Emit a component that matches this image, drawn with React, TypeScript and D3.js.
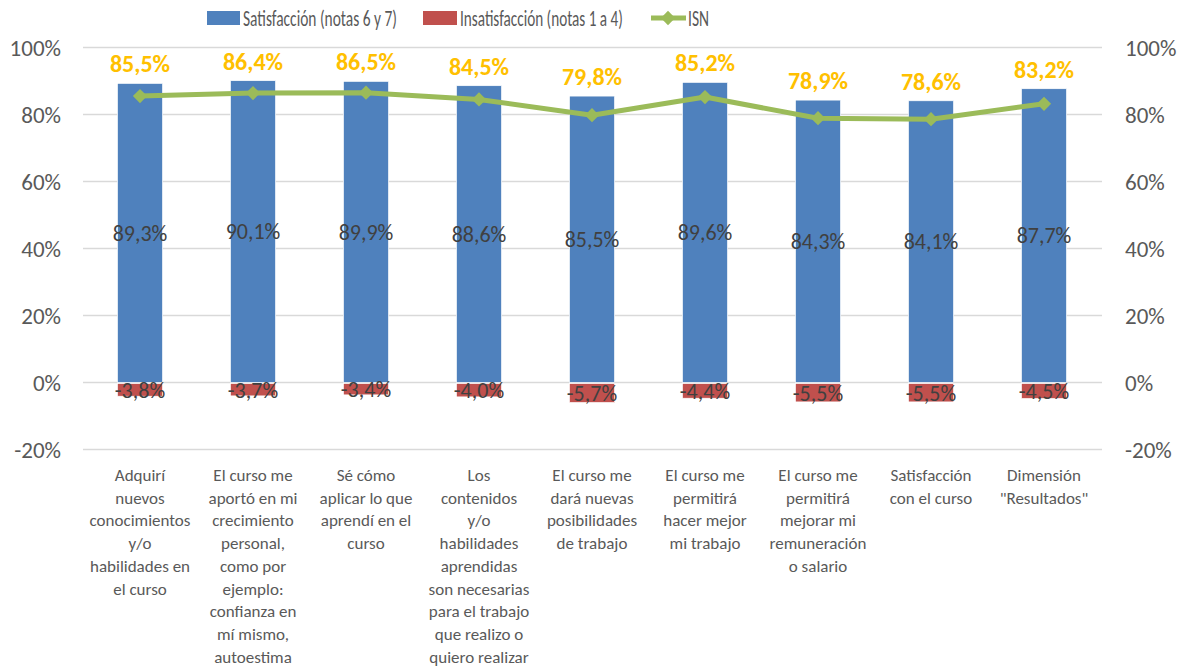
import React, { useLayoutEffect, useRef, useState } from "react";
import * as d3 from "d3";

const categories: string[][] = [
  ["Adquirí", "nuevos", "conocimientos", "y/o", "habilidades en", "el curso"],
  ["El curso me", "aportó en mi", "crecimiento", "personal,", "como por", "ejemplo:", "confianza en", "mí mismo,", "autoestima"],
  ["Sé cómo", "aplicar lo que", "aprendí en el", "curso"],
  ["Los", "contenidos", "y/o", "habilidades", "aprendidas", "son necesarias", "para el trabajo", "que realizo o", "quiero realizar"],
  ["El curso me", "dará nuevas", "posibilidades", "de trabajo"],
  ["El curso me", "permitirá", "hacer mejor", "mi trabajo"],
  ["El curso me", "permitirá", "mejorar mi", "remuneración", "o salario"],
  ["Satisfacción", "con el curso"],
  ["Dimensión", "\"Resultados\""],
];
const satisfaccion = [89.3, 90.1, 89.9, 88.6, 85.5, 89.6, 84.3, 84.1, 87.7];
const insatisfaccion = [-3.8, -3.7, -3.4, -4.0, -5.7, -4.4, -5.5, -5.5, -4.5];
const isn = [85.5, 86.4, 86.5, 84.5, 79.8, 85.2, 78.9, 78.6, 83.2];
const yTicks = [-20, 0, 20, 40, 60, 80, 100];
const legendNames = ["Satisfacción (notas 6 y 7)", "Insatisfacción (notas 1 a 4)", "ISN"];

const W = 1185;
const H = 669;
const FONT = "Carlito, Calibri, Lato, 'Open Sans', sans-serif";
const BLUE = "#4F81BD";
const RED = "#C0504D";
const GREEN = "#9BBB59";
const ORANGE = "#FFC000";
const AXIS = "#595959";
const LABEL = "#404040";

const fmt = (v: number) => v.toFixed(1).replace(".", ",") + "%";

function FitText({ x, y, width, children }: { x: number; y: number; width: number; children: string }) {
  const ref = useRef<SVGTextElement>(null);
  const [s, setS] = useState(1);
  useLayoutEffect(() => {
    if (ref.current) {
      const w = ref.current.getComputedTextLength();
      if (w > 0) setS(width / w);
    }
  }, [width, children]);
  return (
    <g transform={`translate(${x},${y}) scale(${s},1)`}>
      <text ref={ref} x={0} y={0} dy="0.35em" fontSize={23} fill={AXIS}>{children}</text>
    </g>
  );
}

export default function App() {
  const x = d3.scaleBand<number>().domain(d3.range(categories.length)).range([83.5, 1100.5]).paddingInner(0.6).paddingOuter(0.3);
  const xc = (i: number) => (x(i) as number) + x.bandwidth() / 2;
  const y = d3.scaleLinear().domain([-20, 100]).range([449.5, 47.5]);
  const line = d3.line<number>().x((_, i) => xc(i)).y((d) => y(d));
  const bw = x.bandwidth();
  const diamond = d3.symbol().type(d3.symbolDiamond2).size(130);

  return (
    <svg width={W} height={H} style={{ position: "absolute", left: 0, top: 0, fontFamily: FONT }}>
      <rect width={W} height={H} fill="#fff" />
      {yTicks.map((t) => (
        <g key={t}>
          <line x1={83} x2={1102} y1={y(t)} y2={y(t)} stroke="#D9D9D9" strokeWidth={1.5} />
          <text x={61} y={y(t)} dy="0.35em" textAnchor="end" fontSize={23} fill={AXIS}>{t + "%"}</text>
          <text x={1125} y={y(t)} dy="0.35em" textAnchor="start" fontSize={23} fill={AXIS}>{t + "%"}</text>
        </g>
      ))}
      {satisfaccion.map((v, i) => (
        <rect key={"s" + i} x={x(i)} y={y(v)} width={bw} height={y(0) - y(v)} fill={BLUE} stroke="#fff" strokeWidth={0.7} />
      ))}
      {insatisfaccion.map((v, i) => (
        <rect key={"n" + i} x={x(i)} y={y(0) + 1} width={bw} height={y(v) - y(0)} fill={RED} stroke="#fff" strokeWidth={0.7} />
      ))}
      {satisfaccion.map((v, i) => (
        <text key={"sl" + i} x={xc(i)} y={y(v / 2)} dy="0.35em" textAnchor="middle" fontSize={22} fill={LABEL}>{fmt(v)}</text>
      ))}
      {insatisfaccion.map((v, i) => (
        <text key={"nl" + i} x={xc(i)} y={y(v / 2) + 1.5} dy="0.35em" textAnchor="middle" fontSize={22} fill={LABEL}>{fmt(v)}</text>
      ))}
      <path d={line(isn) || ""} fill="none" stroke={GREEN} strokeWidth={5} strokeLinejoin="round" />
      {isn.map((v, i) => (
        <path key={"m" + i} d={diamond() || ""} transform={`translate(${xc(i)},${y(v)})`} fill={GREEN} />
      ))}
      {isn.map((v, i) => (
        <text key={"il" + i} x={xc(i)} y={y(satisfaccion[i]) - 11} textAnchor="middle" fontSize={24} fontWeight="bold" fill={ORANGE}>{fmt(v)}</text>
      ))}
      {categories.map((lines, i) => (
        <text key={"c" + i} x={xc(i)} y={481} textAnchor="middle" fontSize={17} fill={AXIS}>
          {lines.map((l, j) => (
            <tspan key={j} x={xc(i)} dy={j === 0 ? 0 : 22.7}>{l}</tspan>
          ))}
        </text>
      ))}
      <g>
        <rect x={207} y={11} width={33} height={14} fill={BLUE} />
        <FitText x={243} y={18} width={154}>{legendNames[0]}</FitText>
        <rect x={423} y={11} width={34} height={14} fill={RED} />
        <FitText x={460} y={18} width={163}>{legendNames[1]}</FitText>
        <line x1={651} x2={686} y1={18} y2={18} stroke={GREEN} strokeWidth={5} />
        <path d={diamond() || ""} transform="translate(668,18)" fill={GREEN} />
        <FitText x={688} y={18} width={21}>{legendNames[2]}</FitText>
      </g>
    </svg>
  );
}
